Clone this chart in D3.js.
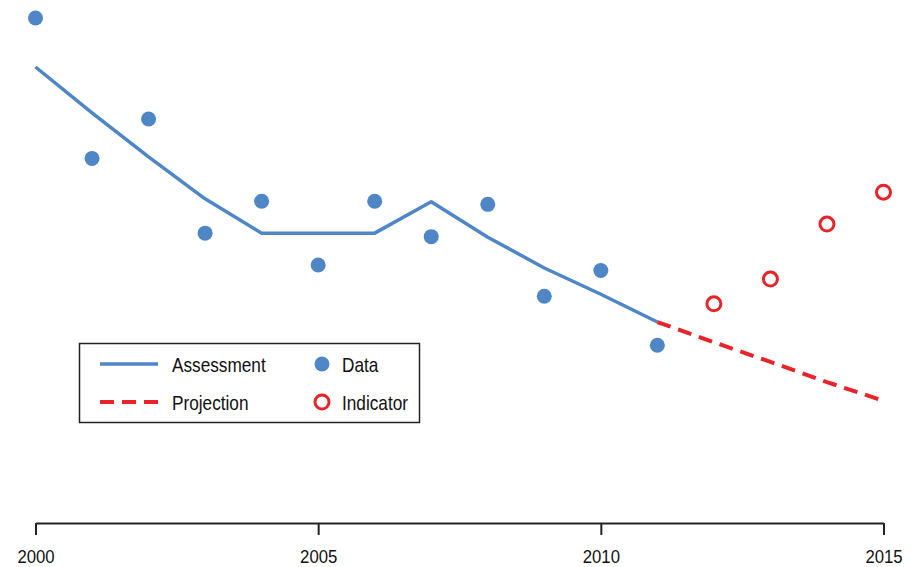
<!DOCTYPE html>
<html><head><meta charset="utf-8">
<script src="https://cdn.jsdelivr.net/npm/d3@7"></script>
<style>
html,body{margin:0;padding:0;background:#fff;}
text{font-family:"Liberation Sans Narrow","Arial Narrow","Liberation Sans",Arial,sans-serif;fill:#111;}
</style></head>
<body><svg id="chart" width="920" height="567"></svg>
<script>
const dataYears = [2000,2001,2002,2003,2004,2005,2006,2007,2008,2009,2010,2011];
const dataValues = [100,72.2,80.0,57.4,63.7,51.1,63.7,56.7,63.1,44.9,50.0,35.2];
const assessYears = [2000,2001,2002,2003,2004,2005,2006,2007,2008,2009,2010,2011];
const assessValues = [90.3,81.2,72.5,64.2,57.4,57.4,57.4,63.6,56.6,50.5,45.3,39.8];
const projYears = [2011,2012,2013,2014,2015];
const projValues = [39.8,35.8,31.9,27.9,24.2];
const indYears = [2012,2013,2014,2015];
const indValues = [43.4,48.3,59.2,65.5];
const xTicks = [2000,2005,2010,2015];
const legendItems = ["Assessment","Projection","Data","Indicator"];

const blue = "#4F86C6", red = "#E8232A";
const svg = d3.select("#chart");
const x = d3.scaleLinear().domain([2000,2015]).range([35.5,883.5]);
const y = d3.scaleLinear().domain([0,100]).range([523,18]);

// axis
const ax = svg.append("g").attr("transform","translate(0,523)")
  .call(d3.axisBottom(x).tickValues(xTicks).tickFormat(d3.format("d")).tickSizeOuter(0).tickSizeInner(12).tickPadding(15));
ax.select(".domain").attr("stroke","#222").attr("stroke-width",2);
ax.selectAll(".tick line").attr("stroke","#222").attr("stroke-width",2);
ax.selectAll(".tick text").attr("font-size","19px").attr("font-family",null).attr("fill","#111")
  .attr("transform","scale(0.88,1)");

const line = d3.line().x(d=>x(d[0])).y(d=>y(d[1]));
svg.append("path").datum(assessYears.map((yr,i)=>[yr,assessValues[i]]))
  .attr("d",line).attr("fill","none").attr("stroke",blue).attr("stroke-width",3.5).attr("stroke-linejoin","round");
svg.append("path").datum(projYears.map((yr,i)=>[yr,projValues[i]]))
  .attr("d",line).attr("fill","none").attr("stroke",red).attr("stroke-width",4).attr("stroke-dasharray","14,8");

svg.selectAll("circle.data").data(dataYears.map((yr,i)=>[yr,dataValues[i]])).join("circle")
  .attr("class","data").attr("cx",d=>x(d[0])).attr("cy",d=>y(d[1])).attr("r",7.5).attr("fill",blue);
svg.selectAll("circle.ind").data(indYears.map((yr,i)=>[yr,indValues[i]])).join("circle")
  .attr("class","ind").attr("cx",d=>x(d[0])).attr("cy",d=>y(d[1])).attr("r",7).attr("fill","none").attr("stroke",red).attr("stroke-width",3);

// legend
const lg = svg.append("g");
lg.append("rect").attr("x",79.5).attr("y",343.5).attr("width",340).attr("height",79).attr("fill","#fff").attr("stroke","#222").attr("stroke-width",1.5);
const rows = [364,402];
lg.append("line").attr("x1",100).attr("x2",158).attr("y1",rows[0]).attr("y2",rows[0]).attr("stroke",blue).attr("stroke-width",3.5);
lg.append("line").attr("x1",100).attr("x2",158).attr("y1",rows[1]).attr("y2",rows[1]).attr("stroke",red).attr("stroke-width",4).attr("stroke-dasharray","14,8");
lg.append("circle").attr("cx",322).attr("cy",rows[0]).attr("r",7.5).attr("fill",blue);
lg.append("circle").attr("cx",322).attr("cy",rows[1]).attr("r",7).attr("fill","none").attr("stroke",red).attr("stroke-width",3);
const tx = [[172,rows[0]],[172,rows[1]],[342,rows[0]],[342,rows[1]]];
legendItems.forEach((t,i)=>{
  lg.append("text").attr("transform",`translate(${tx[i][0]},${tx[i][1]+8}) scale(0.82,1)`)
    .attr("font-size","21px").text(t);
});
</script></body></html>
